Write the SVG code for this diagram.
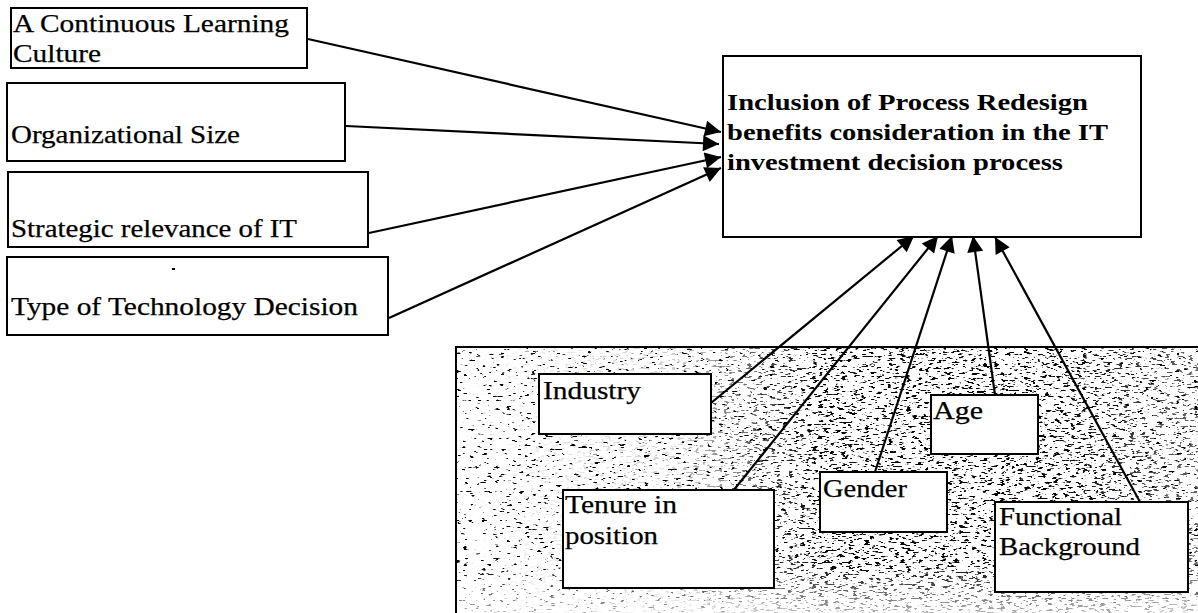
<svg xmlns="http://www.w3.org/2000/svg" width="1198" height="613" viewBox="0 0 1198 613">
  <defs>
    <style>
      .box { fill: #ffffff; stroke: #000000; stroke-width: 2; }
      .lbl { font-family: "Liberation Serif", "Times New Roman", serif; font-size: 25px; fill: #000000; stroke: #000000; stroke-width: 0.25; }
      .hd { font-family: "Liberation Serif", "Times New Roman", serif; font-size: 24px; font-weight: bold; fill: #000000; }
      .conn { stroke: #000000; stroke-width: 2.2; fill: none; marker-end: url(#arrow); }
    </style>
    <marker id="arrow" viewBox="0 0 10 10" refX="10" refY="5" markerUnits="userSpaceOnUse" markerWidth="20" markerHeight="16" orient="auto">
      <path d="M0,0 L10,5 L0,10 z" fill="#000000"/>
    </marker>
    <!-- speckled dither used for the shaded panel -->
    <filter id="speckSparse" filterUnits="objectBoundingBox" x="0" y="0" width="1" height="1">
      <feTurbulence type="fractalNoise" baseFrequency="0.16 0.45" numOctaves="2" seed="7"/>
      <feColorMatrix type="matrix" values="0 0 0 0 0  0 0 0 0 0  0 0 0 0 0  16 0 0 0 -10.6"/>
    </filter>
    <filter id="speckDense" filterUnits="objectBoundingBox" x="0" y="0" width="1" height="1">
      <feTurbulence type="fractalNoise" baseFrequency="0.17 0.5" numOctaves="2" seed="19"/>
      <feColorMatrix type="matrix" values="0 0 0 0 0  0 0 0 0 0  0 0 0 0 0  16 0 0 0 -9.7"/>
    </filter>
    <linearGradient id="denseFade" x1="0" y1="0" x2="1" y2="0">
      <stop offset="0" stop-color="#fff" stop-opacity="0"/>
      <stop offset="0.3" stop-color="#fff" stop-opacity="0.2"/>
      <stop offset="0.5" stop-color="#fff" stop-opacity="1"/>
      <stop offset="0.8" stop-color="#fff" stop-opacity="1"/>
      <stop offset="1" stop-color="#fff" stop-opacity="0.6"/>
    </linearGradient>
    <linearGradient id="bottomFade" x1="0" y1="0" x2="0" y2="1">
      <stop offset="0" stop-color="#fff" stop-opacity="1"/>
      <stop offset="0.82" stop-color="#fff" stop-opacity="1"/>
      <stop offset="1" stop-color="#fff" stop-opacity="0.3"/>
    </linearGradient>
    <mask id="denseMask">
      <rect x="455" y="347" width="743" height="266" fill="url(#denseFade)"/>
    </mask>
    <mask id="panelMask">
      <rect x="455" y="347" width="743" height="266" fill="url(#bottomFade)"/>
    </mask>
  </defs>

  <rect width="1198" height="613" fill="#ffffff"/>

  <!-- shaded demographics panel -->
  <g id="panel">
    <rect x="455" y="347" width="760" height="280" fill="#ffffff"/>
    <g mask="url(#panelMask)">
      <rect x="456" y="348" width="742" height="265" filter="url(#speckSparse)"/>
      <rect x="456" y="348" width="742" height="265" filter="url(#speckDense)" mask="url(#denseMask)"/>
    </g>
    <path d="M456,613 L456,347 L1198,347" stroke="#000000" stroke-width="2" fill="none"/>
  </g>

  <!-- connectors -->
  <g id="connectors">
    <line class="conn" x1="308" y1="39" x2="721" y2="132"/>
    <line class="conn" x1="346" y1="126" x2="719" y2="144"/>
    <line class="conn" x1="369" y1="233" x2="721" y2="157"/>
    <line class="conn" x1="389" y1="318" x2="721" y2="168"/>
    <line class="conn" x1="711" y1="403" x2="914" y2="236"/>
    <line class="conn" x1="733" y1="491" x2="938" y2="236"/>
    <line class="conn" x1="875" y1="472" x2="952" y2="236"/>
    <line class="conn" x1="995" y1="395" x2="973" y2="236"/>
    <line class="conn" x1="1140" y1="502" x2="995" y2="237"/>
  </g>

  <!-- factor nodes -->
  <g id="learning-culture">
    <rect class="box" x="11" y="8" width="296" height="60"/>
    <text class="lbl" x="13" y="32" textLength="276" lengthAdjust="spacingAndGlyphs">A Continuous Learning</text>
    <text class="lbl" x="13" y="62" textLength="88" lengthAdjust="spacingAndGlyphs">Culture</text>
  </g>
  <g id="org-size">
    <rect class="box" x="7" y="83" width="338" height="78"/>
    <text class="lbl" x="11" y="143" textLength="229" lengthAdjust="spacingAndGlyphs">Organizational Size</text>
  </g>
  <g id="strategic-it">
    <rect class="box" x="8" y="172" width="360" height="75"/>
    <text class="lbl" x="11" y="237" textLength="286" lengthAdjust="spacingAndGlyphs">Strategic relevance of IT</text>
  </g>
  <g id="tech-decision">
    <rect class="box" x="7" y="257" width="381" height="78"/>
    <rect x="172" y="268" width="3" height="2" fill="#000000"/>
    <text class="lbl" x="11" y="315" textLength="347" lengthAdjust="spacingAndGlyphs">Type of Technology Decision</text>
  </g>

  <!-- outcome node -->
  <g id="outcome">
    <rect class="box" x="723" y="56" width="418" height="181"/>
    <text class="hd" x="727" y="110" textLength="361" lengthAdjust="spacingAndGlyphs">Inclusion of Process Redesign</text>
    <text class="hd" x="727" y="140" textLength="381" lengthAdjust="spacingAndGlyphs">benefits consideration in the IT</text>
    <text class="hd" x="727" y="170" textLength="336" lengthAdjust="spacingAndGlyphs">investment decision process</text>
  </g>

  <!-- demographic nodes -->
  <g id="industry">
    <rect class="box" x="539" y="374" width="172" height="60"/>
    <text class="lbl" x="543" y="399" textLength="98" lengthAdjust="spacingAndGlyphs">Industry</text>
  </g>
  <g id="tenure">
    <rect class="box" x="563" y="490" width="211" height="98"/>
    <text class="lbl" x="565" y="513" textLength="112" lengthAdjust="spacingAndGlyphs">Tenure in</text>
    <text class="lbl" x="565" y="544" textLength="93" lengthAdjust="spacingAndGlyphs">position</text>
  </g>
  <g id="gender">
    <rect class="box" x="820" y="472" width="127" height="60"/>
    <text class="lbl" x="823" y="497" textLength="84" lengthAdjust="spacingAndGlyphs">Gender</text>
  </g>
  <g id="age">
    <rect class="box" x="931" y="395" width="107" height="59"/>
    <text class="lbl" x="933" y="419" textLength="50" lengthAdjust="spacingAndGlyphs">Age</text>
  </g>
  <g id="functional-background">
    <rect class="box" x="995" y="502" width="193" height="90"/>
    <text class="lbl" x="999" y="525" textLength="123" lengthAdjust="spacingAndGlyphs">Functional</text>
    <text class="lbl" x="999" y="555" textLength="141" lengthAdjust="spacingAndGlyphs">Background</text>
  </g>
</svg>
